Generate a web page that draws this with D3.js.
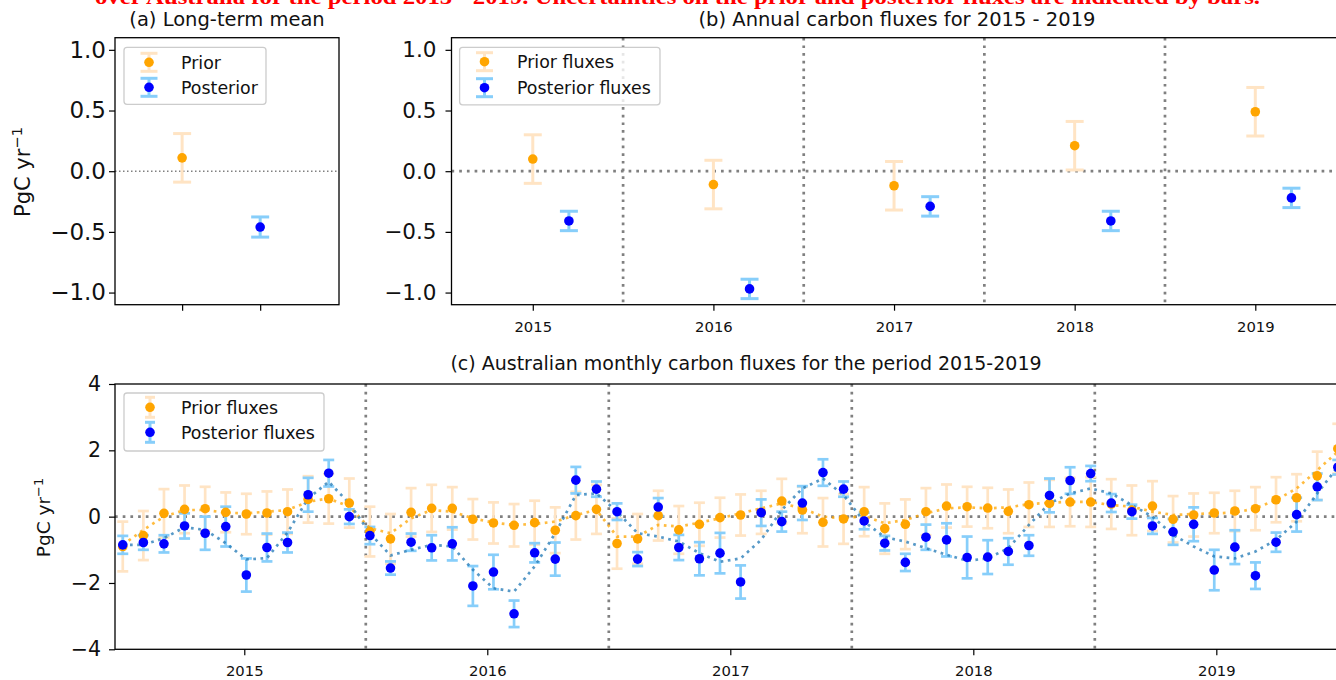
<!DOCTYPE html>
<html><head><meta charset="utf-8">
<script src="https://cdn.jsdelivr.net/npm/d3@7"></script>
<style>
body{margin:0;background:#fff;}
svg{display:block;font-family:"DejaVu Sans",sans-serif;}
</style></head><body>
<svg id="chart" width="1336" height="680"></svg>
<script>
// ---------------- data ----------------
const meanLabels = ["Prior", "Posterior"];
const meanValues = [0.11, -0.46];
const meanErrors = [0.20, 0.083];

const years = [2015, 2016, 2017, 2018, 2019];
const annualPrior = [0.10, -0.11, -0.12, 0.21, 0.49];
const annualPriorErr = [0.20, 0.20, 0.20, 0.20, 0.20];
const annualPost = [-0.41, -0.97, -0.29, -0.41, -0.22];
const annualPostErr = [0.08, 0.08, 0.08, 0.08, 0.08];

const monthlyPrior = [-0.90,-0.57,0.10,0.22,0.24,0.13,0.08,0.11,0.15,0.52,0.54,0.41,
 -0.45,-0.67,0.13,0.25,0.25,-0.08,-0.19,-0.26,-0.18,-0.41,0.03,0.22,
 -0.81,-0.67,0.03,-0.40,-0.23,-0.03,0.05,0.13,0.47,0.20,-0.17,-0.07,
 0.15,-0.36,-0.23,0.15,0.32,0.30,0.26,0.16,0.36,0.40,0.44,0.44,
 0.38,0.19,0.32,-0.08,0.05,0.11,0.17,0.24,0.51,0.57,1.23,2.05];
const monthlyPriorErr = [0.75,0.74,0.73,0.72,0.66,0.60,0.61,0.65,0.67,0.70,0.75,0.74,
 0.75,0.75,0.73,0.71,0.64,0.61,0.62,0.64,0.66,0.69,0.72,0.74,
 0.76,0.75,0.75,0.72,0.65,0.60,0.62,0.65,0.67,0.70,0.73,0.75,
 0.74,0.76,0.75,0.71,0.65,0.60,0.61,0.66,0.67,0.71,0.73,0.75,
 0.75,0.75,0.75,0.70,0.65,0.61,0.61,0.65,0.68,0.71,0.73,0.75];
const monthlyPost = [-0.85,-0.78,-0.82,-0.28,-0.50,-0.30,-1.76,-0.93,-0.78,0.66,1.31,0.00,
 -0.57,-1.55,-0.77,-0.94,-0.82,-2.09,-1.67,-2.93,-1.09,-1.28,1.10,0.83,
 0.15,-1.28,0.29,-0.93,-1.27,-1.10,-1.97,0.12,-0.15,0.41,1.33,0.83,
 -0.13,-0.80,-1.38,-0.62,-0.70,-1.23,-1.22,-1.05,-0.87,0.64,1.09,1.30,
 0.41,0.15,-0.28,-0.46,-0.23,-1.61,-0.92,-1.78,-0.77,0.06,0.90,1.49];
const monthlyPostErr = [0.27,0.22,0.26,0.38,0.50,0.60,0.50,0.42,0.30,0.51,0.40,0.22,
 0.26,0.20,0.26,0.38,0.50,0.60,0.52,0.40,0.29,0.50,0.40,0.23,
 0.25,0.21,0.27,0.38,0.50,0.61,0.50,0.40,0.30,0.51,0.40,0.23,
 0.25,0.22,0.26,0.38,0.50,0.63,0.51,0.40,0.31,0.51,0.40,0.23,
 0.27,0.21,0.24,0.39,0.51,0.61,0.51,0.40,0.29,0.51,0.40,0.22];
const monthlyPriorSmooth = [-0.85,-0.40,0.00,0.20,0.20,0.12,0.10,0.15,0.20,0.45,0.55,0.30,
 -0.35,-0.50,-0.05,0.20,0.15,-0.05,-0.18,-0.25,-0.22,-0.15,0.05,0.20,
 -0.60,-0.60,-0.25,-0.30,-0.18,-0.05,0.10,0.25,0.40,0.25,0.00,-0.05,
 0.02,-0.20,-0.10,0.10,0.25,0.28,0.25,0.28,0.38,0.42,0.45,0.44,
 0.35,0.30,0.15,0.05,0.08,0.10,0.12,0.25,0.50,0.85,1.40,1.96];
const monthlyPostSmooth = [-0.85,-0.85,-0.65,-0.32,-0.40,-0.80,-1.29,-1.25,-0.48,0.55,1.05,0.40,
 -0.50,-1.17,-1.00,-0.85,-0.90,-1.60,-2.16,-2.26,-1.50,-0.50,0.65,0.70,
 0.15,-0.50,-0.60,-0.75,-1.10,-1.36,-1.26,-0.70,0.20,0.85,1.15,0.65,
 -0.15,-0.62,-0.75,-0.95,-1.15,-1.33,-1.26,-0.95,-0.25,0.40,0.70,0.85,
 0.70,0.35,0.00,-0.55,-0.90,-1.20,-1.26,-1.05,-0.70,-0.15,0.70,1.50];

const yTicksAB = [-1.0, -0.5, 0.0, 0.5, 1.0];
const yTicksC = [-4, -2, 0, 2, 4];
const dividers = [2015.5, 2016.5, 2017.5, 2018.5];
const caption = "over Australia for the period 2015 - 2019. Uncertainties on the prior and posterior fluxes are indicated by bars.";

// month positions across the five-year window (category axis)
const monthT = d3.range(monthlyPost.length).map(i => 2014.5 + i * 5 / (monthlyPost.length - 1));

// ---------------- style ----------------
const GRAY = "#808080", PRIOR_BAR = "#ffe4c4", POST_BAR = "#87cefa",
      PRIOR_DOT = "#ffa500", POST_DOT = "#0000ff";

const svg = d3.select("#chart");

svg.append("text").attr("x", 95).attr("y", 4).attr("fill", "red")
  .style("font-family", "'Liberation Serif','DejaVu Serif',serif").style("font-weight", "bold")
  .style("font-size", "20px").attr("textLength", 1165).attr("lengthAdjust", "spacingAndGlyphs")
  .text(caption);

function errorbars(g, xs, vals, errs, x, y, color, capW, lw) {
  const gg = g.append("g");
  const d = xs.map((xv, i) => ({x: xv, v: vals[i], e: errs[i]}));
  gg.selectAll("line.v").data(d).join("line")
    .attr("x1", p => x(p.x)).attr("x2", p => x(p.x))
    .attr("y1", p => y(p.v + p.e)).attr("y2", p => y(p.v - p.e))
    .attr("stroke", color).attr("stroke-width", lw);
  ["top", "bot"].forEach(k => {
    gg.selectAll("line." + k).data(d).join("line").attr("class", k)
      .attr("x1", p => x(p.x) - capW / 2).attr("x2", p => x(p.x) + capW / 2)
      .attr("y1", p => y(k === "top" ? p.v + p.e : p.v - p.e))
      .attr("y2", p => y(k === "top" ? p.v + p.e : p.v - p.e))
      .attr("stroke", color).attr("stroke-width", lw);
  });
}
function dots(g, xs, vals, x, y, color, r) {
  g.append("g").selectAll("circle").data(xs.map((xv, i) => [xv, vals[i]])).join("circle")
    .attr("cx", p => x(p[0])).attr("cy", p => y(p[1])).attr("r", r).attr("fill", color);
}
function legend(g, bx, by, bw, bh, ix, tx, ys, labels, capW, barH, fs) {
  g.append("rect").attr("x", bx).attr("y", by).attr("width", bw).attr("height", bh)
    .attr("rx", 3).attr("fill", "white").attr("fill-opacity", 0.8)
    .attr("stroke", "#cccccc").attr("stroke-width", 1.3);
  const cols = [[PRIOR_BAR, PRIOR_DOT], [POST_BAR, POST_DOT]];
  ys.forEach((yy, i) => {
    const [bc, dc] = cols[i];
    g.append("line").attr("x1", ix).attr("x2", ix).attr("y1", yy - barH).attr("y2", yy + barH).attr("stroke", bc).attr("stroke-width", 3);
    g.append("line").attr("x1", ix - capW / 2).attr("x2", ix + capW / 2).attr("y1", yy - barH).attr("y2", yy - barH).attr("stroke", bc).attr("stroke-width", 3);
    g.append("line").attr("x1", ix - capW / 2).attr("x2", ix + capW / 2).attr("y1", yy + barH).attr("y2", yy + barH).attr("stroke", bc).attr("stroke-width", 3);
    g.append("circle").attr("cx", ix).attr("cy", yy).attr("r", 4.8).attr("fill", dc);
    g.append("text").attr("x", tx).attr("y", yy).attr("dy", "0.36em").style("font-size", fs + "px").attr("fill", "#111").text(labels[i]);
  });
}
function yAxis(g, y, left, ticks, fmt, fs, pad) {
  const ax = g.append("g").attr("transform", `translate(${left},0)`)
    .call(d3.axisLeft(y).tickValues(ticks).tickFormat(fmt).tickSize(6).tickPadding(pad));
  ax.select(".domain").remove();
  ax.selectAll("line").attr("stroke", "#000").attr("stroke-width", 1.2);
  ax.selectAll("text").style("font-size", fs + "px").attr("fill", "#111").style("font-family", "DejaVu Sans");
}
function xAxis(g, x, bottom, ticks, fmt, fs, pad) {
  const ax = g.append("g").attr("transform", `translate(0,${bottom})`)
    .call(d3.axisBottom(x).tickValues(ticks).tickFormat(fmt).tickSize(6).tickPadding(pad));
  ax.select(".domain").remove();
  ax.selectAll("line").attr("stroke", "#000").attr("stroke-width", 1.2);
  ax.selectAll("text").style("font-size", fs + "px").attr("fill", "#111").style("font-family", "DejaVu Sans");
}
function ylabel(g, x, y, fs) {
  const t = g.append("text").attr("transform", `translate(${x},${y}) rotate(-90)`)
    .attr("text-anchor", "middle").style("font-size", fs + "px").attr("fill", "#111");
  t.append("tspan").text("PgC yr");
  t.append("tspan").attr("dy", -fs * 0.4).style("font-size", (fs * 0.7) + "px").text("\u22121");
}

// ---------------- panel (a) ----------------
const A = {l: 115, r: 339, t: 37.7, b: 304.7};
const xA = d3.scaleLinear().domain([-0.86, 2.01]).range([A.l, A.r]);
const yAB = d3.scaleLinear().domain([-1.1, 1.1]).range([A.b, A.t]);
const gA = svg.append("g");
gA.append("line").attr("x1", A.l).attr("x2", A.r).attr("y1", yAB(0)).attr("y2", yAB(0))
  .attr("stroke", GRAY).attr("stroke-width", 1.5).attr("stroke-dasharray", "1.5,2.5");
errorbars(gA, [0], [meanValues[0]], [meanErrors[0]], xA, yAB, PRIOR_BAR, 18, 3);
dots(gA, [0], [meanValues[0]], xA, yAB, PRIOR_DOT, 4.8);
errorbars(gA, [1], [meanValues[1]], [meanErrors[1]], xA, yAB, POST_BAR, 18, 3);
dots(gA, [1], [meanValues[1]], xA, yAB, POST_DOT, 4.8);
gA.append("rect").attr("x", A.l).attr("y", A.t).attr("width", A.r - A.l).attr("height", A.b - A.t)
  .attr("fill", "none").attr("stroke", "#000").attr("stroke-width", 1.3);
yAxis(gA, yAB, A.l, yTicksAB, d3.format(".1f"), 23, 3);
xAxis(gA, xA, A.b, [0, 1], () => "", 14, 4);
legend(gA, 124, 47.3, 142, 57, 149, 181, [62.3, 87.3], meanLabels, 17, 9, 17.4);
gA.append("text").attr("x", 227).attr("y", 25.5).attr("text-anchor", "middle").style("font-size", "19.5px").attr("fill", "#111").text("(a) Long-term mean");
ylabel(gA, 30, 172, 21);

// ---------------- panel (b) ----------------
const B = {l: 451.5, r: 1342, t: 37.7, b: 304.7};
const xB = d3.scaleLinear().domain([2014.55, 2019.48]).range([B.l, B.r]);
const gB = svg.append("g");
gB.append("line").attr("x1", B.l).attr("x2", B.r).attr("y1", yAB(0)).attr("y2", yAB(0))
  .attr("stroke", GRAY).attr("stroke-width", 2.7).attr("stroke-dasharray", "2.7,5");
gB.selectAll("line.div").data(dividers).join("line").attr("class", "div")
  .attr("x1", d => xB(d)).attr("x2", d => xB(d)).attr("y1", B.t).attr("y2", B.b)
  .attr("stroke", GRAY).attr("stroke-width", 2.7).attr("stroke-dasharray", "2.7,5");
const yearsPost = years.map(y => y + 0.2);
errorbars(gB, years, annualPrior, annualPriorErr, xB, yAB, PRIOR_BAR, 18, 3);
dots(gB, years, annualPrior, xB, yAB, PRIOR_DOT, 4.8);
errorbars(gB, yearsPost, annualPost, annualPostErr, xB, yAB, POST_BAR, 18, 3);
dots(gB, yearsPost, annualPost, xB, yAB, POST_DOT, 4.8);
gB.append("rect").attr("x", B.l).attr("y", B.t).attr("width", B.r - B.l).attr("height", B.b - B.t)
  .attr("fill", "none").attr("stroke", "#000").attr("stroke-width", 1.3);
yAxis(gB, yAB, B.l, yTicksAB, d3.format(".1f"), 21.5, 9);
xAxis(gB, xB, B.b, years, d3.format("d"), 14.8, 10.5);
legend(gB, 459.6, 47.3, 200.4, 57.5, 484.5, 517, [61.7, 87.7], ["Prior fluxes", "Posterior fluxes"], 17, 9, 17.4);
gB.append("text").attr("x", 897).attr("y", 25.5).attr("text-anchor", "middle").style("font-size", "19.5px").attr("fill", "#111").text("(b) Annual carbon fluxes for 2015 - 2019");

// ---------------- panel (c) ----------------
const C = {l: 115, r: 1376.7, t: 384, b: 649.3};
const xC = d3.scaleLinear().domain([2014.468, 2019.66]).range([C.l, C.r]);
const yC = d3.scaleLinear().domain([-4, 4]).range([C.b, C.t]);
const gC = svg.append("g");
gC.append("line").attr("x1", C.l).attr("x2", C.r).attr("y1", yC(0)).attr("y2", yC(0))
  .attr("stroke", GRAY).attr("stroke-width", 2.7).attr("stroke-dasharray", "2.7,5");
gC.selectAll("line.div").data(dividers).join("line").attr("class", "div")
  .attr("x1", d => xC(d)).attr("x2", d => xC(d)).attr("y1", C.t).attr("y2", C.b)
  .attr("stroke", GRAY).attr("stroke-width", 2.7).attr("stroke-dasharray", "2.7,5");
errorbars(gC, monthT, monthlyPrior, monthlyPriorErr, xC, yC, PRIOR_BAR, 11, 2.7);
errorbars(gC, monthT, monthlyPost, monthlyPostErr, xC, yC, POST_BAR, 11, 2.7);
const lineC = d3.line().x((d, i) => xC(monthT[i])).y(d => yC(d));
gC.append("path").attr("d", lineC(monthlyPriorSmooth)).attr("fill", "none")
  .attr("stroke", PRIOR_DOT).attr("stroke-opacity", 0.75).attr("stroke-width", 2.7).attr("stroke-dasharray", "2.7,4.5");
gC.append("path").attr("d", lineC(monthlyPostSmooth)).attr("fill", "none")
  .attr("stroke", "#1f77b4").attr("stroke-opacity", 0.75).attr("stroke-width", 2.7).attr("stroke-dasharray", "2.7,4.5");
dots(gC, monthT, monthlyPrior, xC, yC, PRIOR_DOT, 4.8);
dots(gC, monthT, monthlyPost, xC, yC, POST_DOT, 4.8);
gC.append("rect").attr("x", C.l).attr("y", C.t).attr("width", C.r - C.l).attr("height", C.b - C.t)
  .attr("fill", "none").attr("stroke", "#000").attr("stroke-width", 1.3);
yAxis(gC, yC, C.l, yTicksC, d3.format("d"), 20.5, 8);
xAxis(gC, xC, C.b, years, d3.format("d"), 14.8, 10.5);
legend(gC, 124, 393, 200, 58, 150, 181, [407.3, 432.3], ["Prior fluxes", "Posterior fluxes"], 10, 10, 17.4);
gC.append("text").attr("x", 746).attr("y", 370).attr("text-anchor", "middle").style("font-size", "19px").attr("fill", "#111").text("(c) Australian monthly carbon fluxes for the period 2015-2019");
ylabel(gC, 50, 517.5, 18.5);
</script>
</body></html>
